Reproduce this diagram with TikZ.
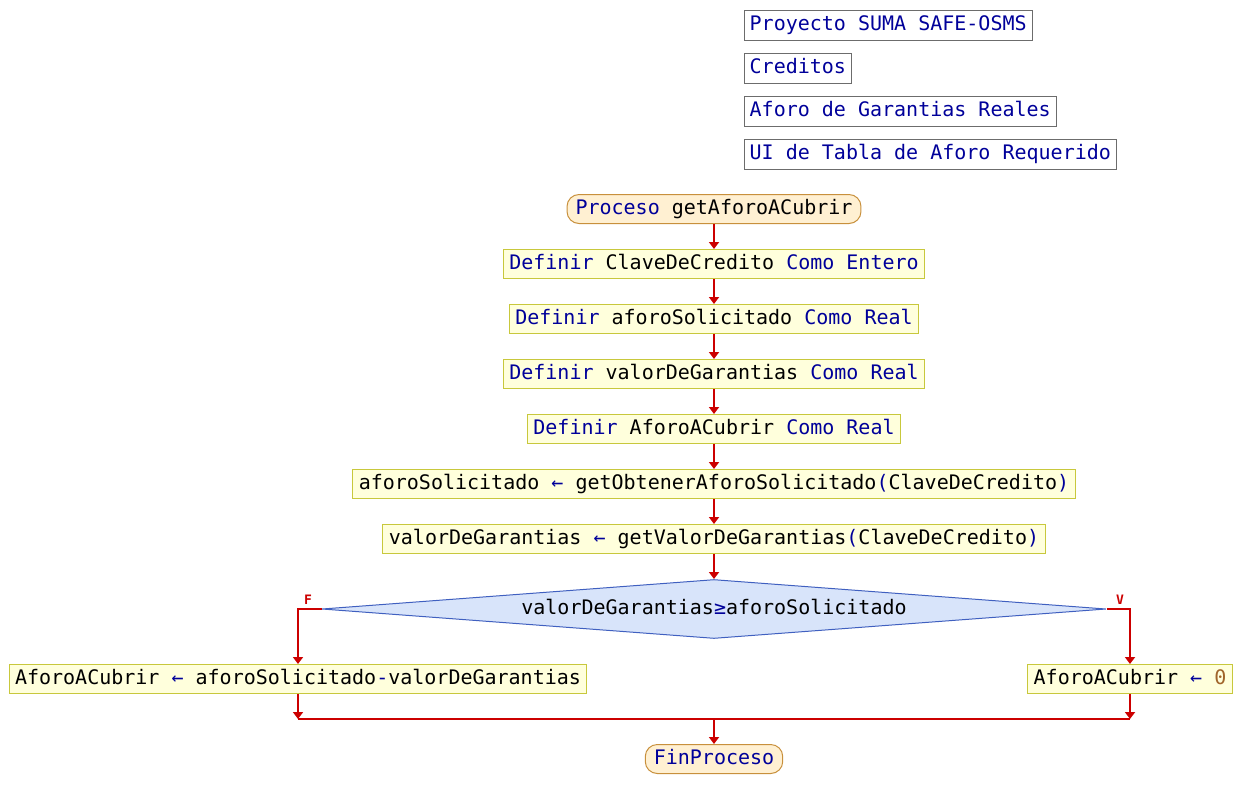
\documentclass[tikz,border=0pt]{standalone}
\usepackage{fontspec}
\newfontfamily\codefont{DejaVu Sans Mono}
\usetikzlibrary{arrows.meta,shapes.geometric}
\definecolor{kwblue}{HTML}{00009A}
\definecolor{flowred}{HTML}{CC0000}
\definecolor{numbrown}{HTML}{A0642A}
\definecolor{procfill}{HTML}{FFF0D2}
\definecolor{procline}{HTML}{C8903C}
\definecolor{stepfill}{HTML}{FFFFDC}
\definecolor{stepline}{HTML}{C8C83C}
\definecolor{condfill}{HTML}{D8E4FA}
\definecolor{condline}{HTML}{4060C0}
\newcommand{\kw}[1]{\textcolor{kwblue}{#1}}
\newcommand{\asg}{\kw{←}}

\begin{document}
\begin{tikzpicture}[>={Triangle[width=10pt,length=7pt]}, x=1pt, y=-1pt,
  every node/.style={font=\codefont\fontsize{20}{24}\selectfont, text height=15pt, text depth=4pt},
  titlebox/.style={draw=gray!85!black, fill=white, text=kwblue, inner xsep=5.5pt, inner ysep=0pt, minimum height=30pt, anchor=west},
  procbox/.style={draw=procline, fill=procfill, rounded corners=12pt, inner xsep=8.5pt, inner ysep=0pt, minimum height=29pt, line width=1pt},
  stepbox/.style={draw=stepline, fill=stepfill, inner xsep=6pt, inner ysep=0pt, minimum height=29pt, line width=1pt},
  condbox/.style={diamond, draw=condline, fill=condfill, minimum width=784pt, minimum height=59pt, inner sep=0pt, aspect=13, line width=1pt},
  flow/.style={->, draw=flowred, line width=1.8pt},
  flowline/.style={draw=flowred, line width=1.8pt},
  branch/.style={text=flowred, font=\codefont\bfseries\fontsize{13}{14}\selectfont, text height=10pt, text depth=0pt, inner sep=0pt}
]
  \useasboundingbox (0,0) rectangle (1242,809);
  % header
  \node[titlebox] (proj) at (744,25) {Proyecto SUMA SAFE-OSMS};
  \node[titlebox] (mod) at (744,68) {Creditos};
  \node[titlebox] (sub) at (744,111) {Aforo de Garantias Reales};
  \node[titlebox] (ui) at (744,154) {UI de Tabla de Aforo Requerido};
  % declarations
  \node[procbox] (start) at (714,209) {\kw{Proceso} getAforoACubrir};
  \node[stepbox] (defclave) at (714,264) {\kw{Definir} ClaveDeCredito \kw{Como Entero}};
  \node[stepbox] (defsol) at (714,319) {\kw{Definir} aforoSolicitado \kw{Como Real}};
  \node[stepbox] (defval) at (714,374) {\kw{Definir} valorDeGarantias \kw{Como Real}};
  \node[stepbox] (defcub) at (714,429) {\kw{Definir} AforoACubrir \kw{Como Real}};
  % assignments
  \node[stepbox] (getsol) at (714,484) {aforoSolicitado \asg{} getObtenerAforoSolicitado\kw{(}ClaveDeCredito\kw{)}};
  \node[stepbox] (getval) at (714,539) {valorDeGarantias \asg{} getValorDeGarantias\kw{(}ClaveDeCredito\kw{)}};
  % decision
  \node[condbox] (cond) at (714,609) {valorDeGarantias\kw{≥}aforoSolicitado};
  \node[branch] (flab) at (308,599) {F};
  \node[branch] (vlab) at (1120,599) {V};
  \node[stepbox] (cubdif) at (298,679) {AforoACubrir \asg{} aforoSolicitado\kw{-}valorDeGarantias};
  \node[stepbox] (cubzero) at (1130,679) {AforoACubrir \asg{} \textcolor{numbrown}{0}};
  \coordinate (merge) at (714,719);
  \node[procbox] (fin) at (714,759) {\kw{FinProceso}};
  % flow
  \draw[flow] (start) -- (defclave);
  \draw[flow] (defclave) -- (defsol);
  \draw[flow] (defsol) -- (defval);
  \draw[flow] (defval) -- (defcub);
  \draw[flow] (defcub) -- (getsol);
  \draw[flow] (getsol) -- (getval);
  \draw[flow] (getval) -- (cond);
  \draw[flow] (cond.west) -| (cubdif.north);
  \draw[flow] (cond.east) -| (cubzero.north);
  \draw[flow] (cubdif.south) -- (cubdif.south |- merge);
  \draw[flow] (cubzero.south) -- (cubzero.south |- merge);
  \draw[flowline] (cubdif.south |- merge) -- (cubzero.south |- merge);
  \draw[flow] (merge) -- (fin);
\end{tikzpicture}
\end{document}
